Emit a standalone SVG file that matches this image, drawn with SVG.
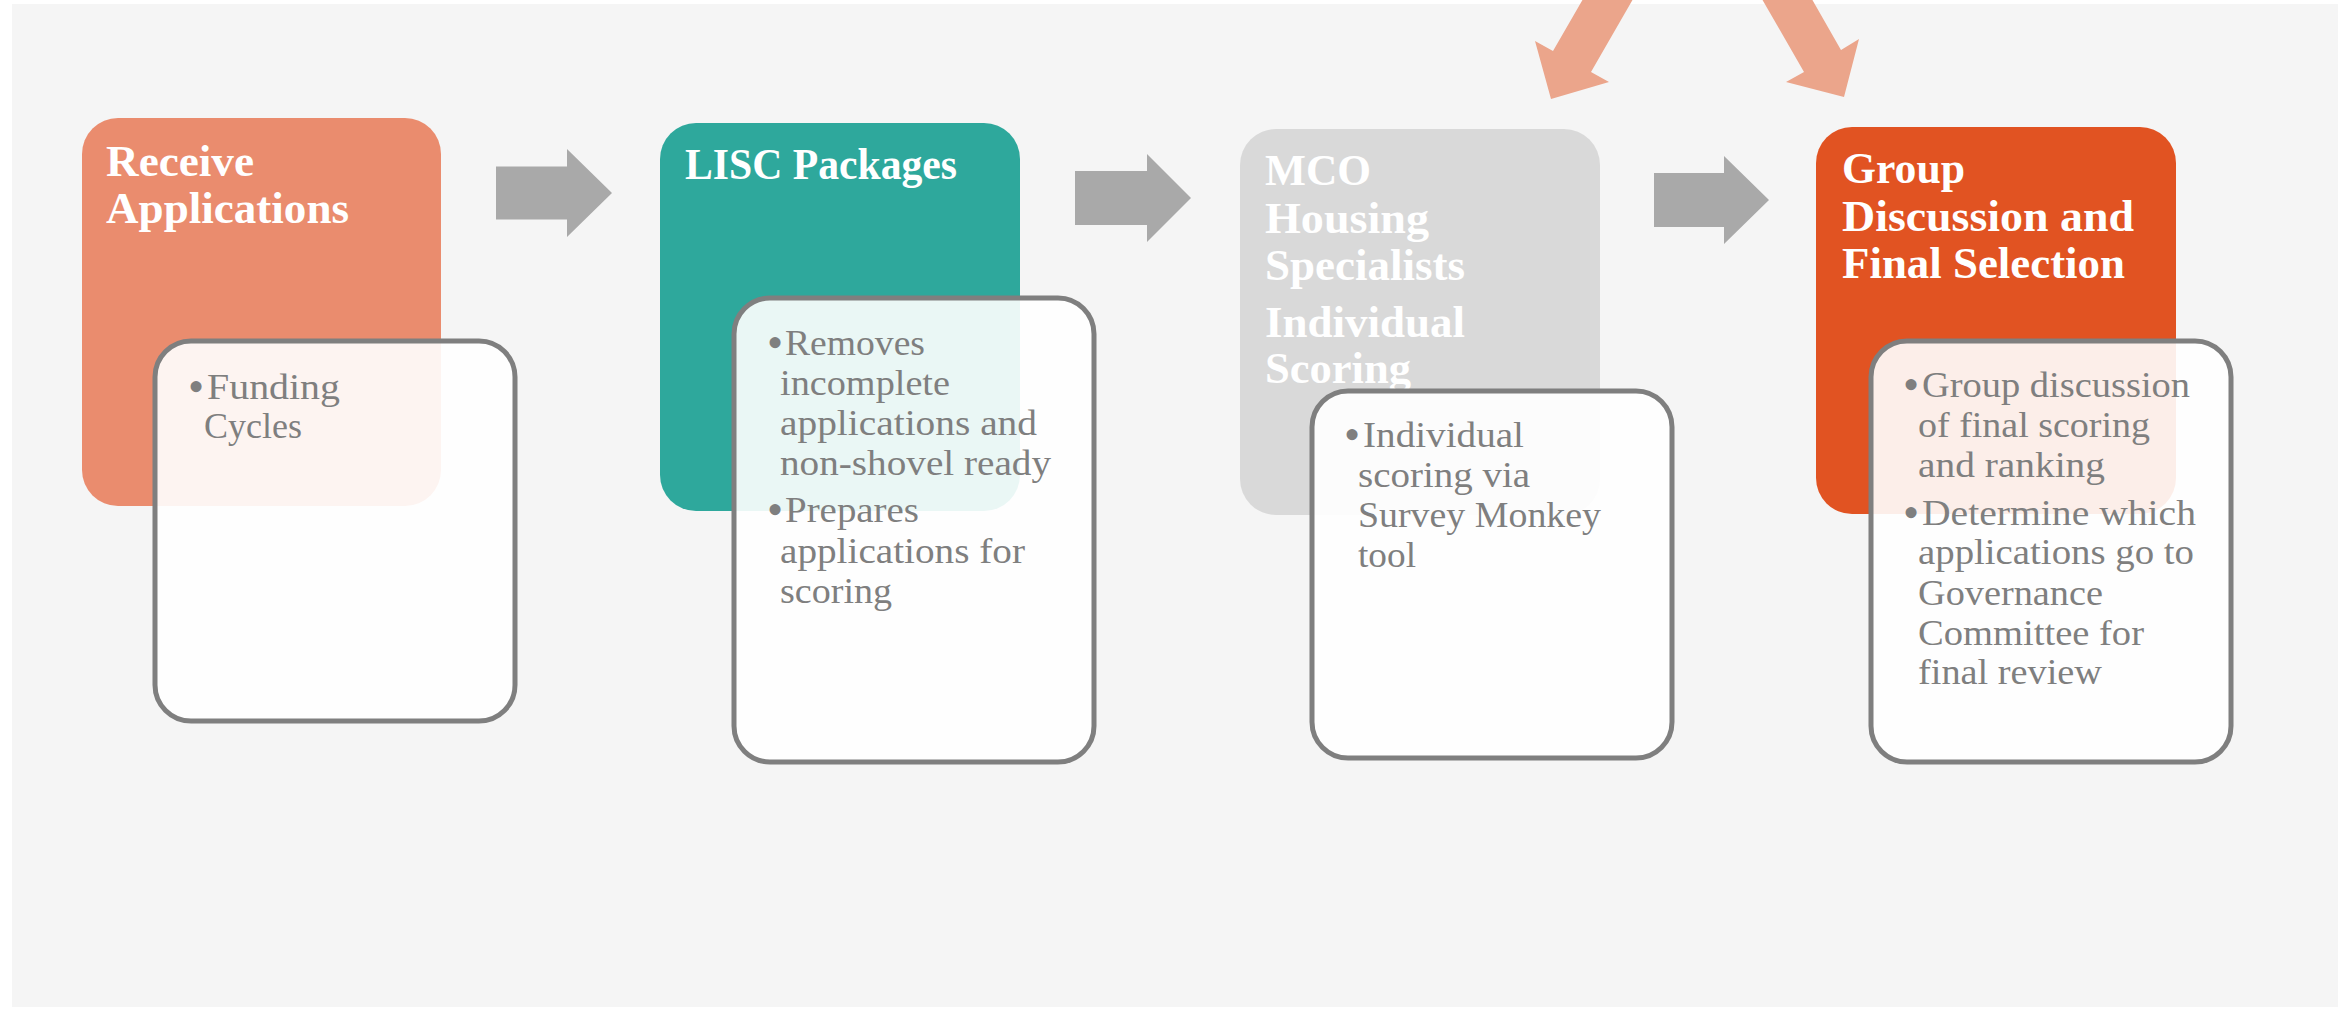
<svg xmlns="http://www.w3.org/2000/svg" width="2338" height="1009" viewBox="0 0 2338 1009">
<style>
.bg{fill:#f5f5f5}
.title{font-family:"Liberation Serif","Times New Roman",serif;font-weight:bold;font-size:44px;fill:#ffffff}
.body{font-family:"Liberation Serif","Times New Roman",serif;font-size:35px;fill:#7f7f7f}
.bul{font-size:46px}
.detail{fill:#ffffff;fill-opacity:0.9;stroke:#7f7f7f;stroke-width:5}
.garrow{fill:#a9a9a9}
.parrow{fill:#eba58b}
</style>
<rect x="0" y="0" width="2338" height="1009" fill="#ffffff"/>
<rect class="bg" x="12" y="4" width="2326" height="1003"/>

<g id="connectors">
  <polygon class="garrow" points="496,166.5 567,166.5 567,149 612,193 567,237 567,219.5 496,219.5"/>
  <polygon class="garrow" points="1075,171 1147,171 1147,154 1191,198 1147,242 1147,225 1075,225"/>
  <polygon class="garrow" points="1654,173 1724,173 1724,156 1769,200 1724,244 1724,227 1654,227"/>
</g>

<g id="node-receive">
  <rect x="82" y="118" width="359" height="388" rx="36" fill="#ea8c6e"/>
  <text class="title"><tspan x="106" y="176" textLength="148" lengthAdjust="spacingAndGlyphs">Receive</tspan><tspan x="106" y="223" textLength="243" lengthAdjust="spacingAndGlyphs">Applications</tspan></text>
</g>

<g id="node-lisc">
  <rect x="660" y="123" width="360" height="388" rx="36" fill="#2ea89c"/>
  <text class="title" x="685" y="179" textLength="272" lengthAdjust="spacingAndGlyphs">LISC Packages</text>
</g>

<g id="node-mco">
  <rect x="1240" y="129" width="360" height="386" rx="36" fill="#d9d9d9"/>
  <text class="title"><tspan x="1265" y="185" textLength="106" lengthAdjust="spacingAndGlyphs">MCO</tspan><tspan x="1265" y="233" textLength="164" lengthAdjust="spacingAndGlyphs">Housing</tspan><tspan x="1265" y="280" textLength="200" lengthAdjust="spacingAndGlyphs">Specialists</tspan><tspan x="1265" y="337" textLength="200" lengthAdjust="spacingAndGlyphs">Individual</tspan><tspan x="1265" y="383" textLength="146" lengthAdjust="spacingAndGlyphs">Scoring</tspan></text>
</g>

<g id="node-group">
  <rect x="1816" y="127" width="360" height="387" rx="36" fill="#e15322"/>
  <text class="title"><tspan x="1842" y="183" textLength="123" lengthAdjust="spacingAndGlyphs">Group</tspan><tspan x="1842" y="231" textLength="292" lengthAdjust="spacingAndGlyphs">Discussion and</tspan><tspan x="1842" y="278" textLength="283" lengthAdjust="spacingAndGlyphs">Final Selection</tspan></text>
</g>

<g id="detail-receive">
  <rect class="detail" x="155" y="341" width="360" height="380" rx="36"/>
  <text class="body"><tspan class="bul" x="188" y="402">•</tspan><tspan x="207" y="399" textLength="133" lengthAdjust="spacingAndGlyphs">Funding</tspan><tspan x="204" y="438" textLength="98" lengthAdjust="spacingAndGlyphs">Cycles</tspan></text>
</g>

<g id="detail-lisc">
  <rect class="detail" x="734" y="298" width="360" height="464" rx="36"/>
  <text class="body"><tspan class="bul" x="767" y="358">•</tspan><tspan x="785" y="355" textLength="140" lengthAdjust="spacingAndGlyphs">Removes</tspan><tspan x="780" y="395" textLength="170" lengthAdjust="spacingAndGlyphs">incomplete</tspan><tspan x="780" y="435" textLength="257" lengthAdjust="spacingAndGlyphs">applications and</tspan><tspan x="780" y="475" textLength="271" lengthAdjust="spacingAndGlyphs">non-shovel ready</tspan><tspan class="bul" x="767" y="525">•</tspan><tspan x="785" y="522" textLength="134" lengthAdjust="spacingAndGlyphs">Prepares</tspan><tspan x="780" y="563" textLength="245" lengthAdjust="spacingAndGlyphs">applications for</tspan><tspan x="780" y="603" textLength="112" lengthAdjust="spacingAndGlyphs">scoring</tspan></text>
</g>

<g id="detail-mco">
  <rect class="detail" x="1312" y="391" width="360" height="367" rx="36"/>
  <text class="body"><tspan class="bul" x="1344" y="450">•</tspan><tspan x="1363" y="447" textLength="161" lengthAdjust="spacingAndGlyphs">Individual</tspan><tspan x="1358" y="487" textLength="172" lengthAdjust="spacingAndGlyphs">scoring via</tspan><tspan x="1358" y="527" textLength="243" lengthAdjust="spacingAndGlyphs">Survey Monkey</tspan><tspan x="1358" y="567" textLength="58" lengthAdjust="spacingAndGlyphs">tool</tspan></text>
</g>

<g id="detail-group">
  <rect class="detail" x="1871" y="341" width="360" height="421" rx="36"/>
  <text class="body"><tspan class="bul" x="1903" y="400">•</tspan><tspan x="1922" y="397" textLength="268" lengthAdjust="spacingAndGlyphs">Group discussion</tspan><tspan x="1918" y="437" textLength="232" lengthAdjust="spacingAndGlyphs">of final scoring</tspan><tspan x="1918" y="477" textLength="187" lengthAdjust="spacingAndGlyphs">and ranking</tspan><tspan class="bul" x="1903" y="528">•</tspan><tspan x="1922" y="525" textLength="274" lengthAdjust="spacingAndGlyphs">Determine which</tspan><tspan x="1918" y="564" textLength="276" lengthAdjust="spacingAndGlyphs">applications go to</tspan><tspan x="1918" y="605" textLength="185" lengthAdjust="spacingAndGlyphs">Governance</tspan><tspan x="1918" y="645" textLength="226" lengthAdjust="spacingAndGlyphs">Committee for</tspan><tspan x="1918" y="684" textLength="184" lengthAdjust="spacingAndGlyphs">final review</tspan></text>
</g>

<g id="connectors-top">
  <polygon class="parrow" points="1594,-20 1644,-20 1591,72 1609,82 1551,99 1535,41 1553,51"/>
  <polygon class="parrow" points="1751,-20 1801,-20 1841,50 1859,39 1844,97 1786,82 1804,72"/>
</g>
</svg>
